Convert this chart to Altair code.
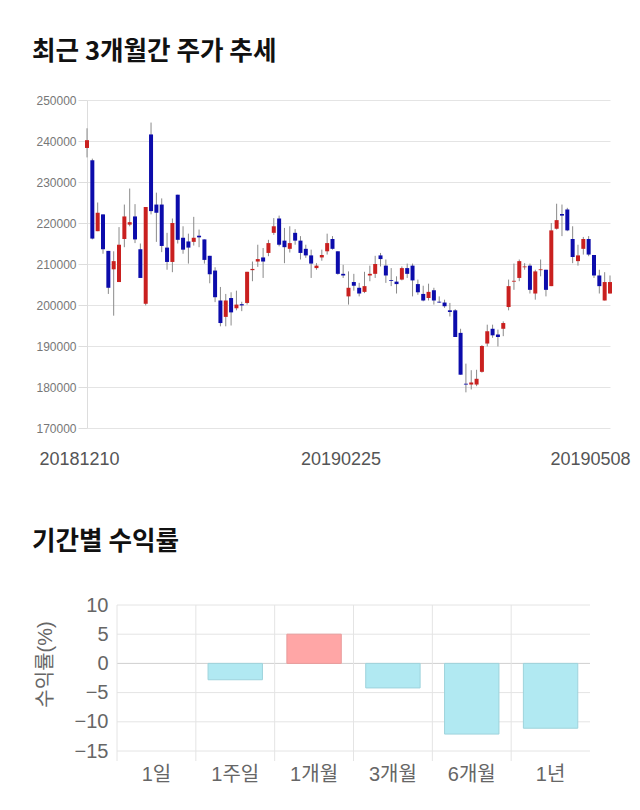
import altair as alt
import pandas as pd

# ---------------- data ----------------
holidays = ["2018-12-25", "2018-12-31", "2019-01-01", "2019-02-04", "2019-02-05",
            "2019-02-06", "2019-03-01", "2019-05-01", "2019-05-06"]
dates = [d.strftime("%Y%m%d") for d in pd.bdate_range("2018-12-10", "2019-05-08")
         if d.strftime("%Y-%m-%d") not in holidays]

open_ = [238300, 235300, 218000, 222100, 213200, 208700, 205600, 216100, 219600, 221600,
         213600, 200300, 241600, 224500, 224500, 214000, 210500, 226900, 216400, 215500,
         215400, 216900, 216000, 212000, 208400, 201100, 197100, 201700, 199200, 200200,
         200500, 208500, 210600, 211600, 212700, 217600, 221100, 215700, 213700, 217600,
         215700, 213700, 212100, 209000, 211600, 213100, 216100, 213100, 207600, 202100,
         205600, 204200, 203200, 207200, 207600, 212100, 209600, 206100, 205700, 206200,
         209000, 209600, 205100, 202700, 201700, 203600, 200800, 200600, 198700, 198700,
         193200, 180800, 180600, 180600, 183700, 190600, 194200, 192800, 194200, 199500,
         205700, 206600, 209200, 209600, 202800, 208500, 208600, 204600, 218600, 222200,
         223300, 216100, 210700, 213700, 216100, 212200, 207200, 201100, 202800]
high = [243100, 235700, 225000, 222100, 213200, 213100, 219000, 224500, 228400, 224600,
        215000, 223900, 244500, 227400, 226000, 217600, 221100, 226900, 219200, 217400,
        221500, 218400, 216000, 212000, 209200, 204400, 202700, 203100, 203500, 200800,
        208100, 210600, 214700, 213900, 215900, 221200, 221800, 218800, 219200, 218500,
        216800, 214700, 213500, 210200, 213500, 217400, 216800, 213100, 209800, 208200,
        207600, 205400, 208100, 209600, 212000, 212700, 211100, 209000, 207000, 209400,
        210100, 210100, 206200, 204700, 205200, 204200, 202100, 201300, 200500, 199000,
        194200, 185700, 184100, 184200, 190200, 195200, 195200, 194000, 196000, 206200,
        210100, 211100, 210200, 210100, 208600, 211100, 208600, 220000, 224700, 224500,
        223700, 219200, 214700, 216600, 216800, 212200, 208600, 208000, 207200]
low = [236000, 216000, 218000, 212500, 202700, 197400, 205600, 214100, 219200, 215100,
       206600, 199900, 222100, 215400, 212900, 208600, 208000, 215000, 212500, 210100,
       214500, 214100, 210100, 205300, 200700, 194800, 194800, 195000, 198700, 198500,
       200100, 205800, 209300, 206600, 211900, 217100, 214300, 210200, 212800, 214700,
       211100, 211500, 206600, 208600, 210800, 212300, 213500, 207400, 206600, 200100,
       203500, 202100, 202900, 205800, 206600, 209400, 205400, 204600, 202800, 206000,
       206600, 202100, 202500, 200900, 201100, 200100, 200500, 199300, 197200, 192200,
       183000, 178700, 179400, 180200, 183500, 189900, 192000, 189900, 192400, 198700,
       203700, 205800, 208600, 202800, 201300, 207000, 202100, 204600, 218400, 216800,
       218000, 210200, 209600, 212300, 211900, 206600, 202800, 201100, 202800]
close = [240200, 216200, 222500, 213600, 204200, 210700, 214700, 221600, 220200, 216000,
         206600, 223900, 222900, 222500, 214400, 210500, 220000, 215900, 213500, 214000,
         216400, 216500, 211000, 207500, 201900, 195600, 201100, 198200, 200100, 199900,
         208100, 208800, 211200, 210600, 215100, 219200, 214700, 214100, 215100, 215700,
         212700, 212100, 210100, 209600, 212200, 215100, 213700, 207600, 207200, 204200,
         204700, 202800, 204600, 207600, 210000, 211200, 207200, 205900, 205100, 209000,
         207600, 206000, 203100, 201100, 203200, 201100, 200600, 199700, 198300, 192200,
         183000, 180600, 181100, 182000, 190000, 193600, 192600, 192200, 195600, 204600,
         205900, 210700, 209400, 203700, 208200, 208700, 203700, 218200, 220700, 221800,
         218200, 211700, 212100, 216100, 212300, 207200, 204600, 205600, 205600]

y_ticks = [170000, 180000, 190000, 200000, 210000, 220000, 230000, 240000, 250000]
x_label_dates = ["20181210", "20190225", "20190508"]

periods = ["1일", "1주일", "1개월", "3개월", "6개월", "1년"]
returns = [0.0, -2.8, 5.0, -4.2, -12.1, -11.1]
ret_ticks = [-15, -10, -5, 0, 5, 10]

# ---------------- styles ----------------
RED = "#c9201f"
BLUE = "#0c0cab"
GRID = "#e4e4e4"
TITLE_FONT = "Noto Sans CJK KR"

df = pd.DataFrame({"date": dates, "open": open_, "high": high, "low": low, "close": close})

xenc = alt.X(
    "date:O",
    sort=None,
    scale=alt.Scale(type="point", padding=0),
    axis=alt.Axis(
        values=x_label_dates, title=None, domain=False, ticks=False, grid=False,
        labelAngle=0, labelFont="Liberation Sans",
        labelFontSize=18, labelColor="#555", labelPadding=22,
        labelOffset={"condition": {"test": "datum.value == '20190508'", "value": -20}, "value": -8},
    ),
)

yscale = alt.Scale(domain=[170000, 250000], nice=False, zero=False)
yaxis = alt.Axis(
    values=y_ticks, format="d", title=None, labelFont="Liberation Sans",
    labelFontSize=12, labelColor="#777", labelPadding=2, tickSize=9,
    tickColor="#dddddd", gridColor=GRID, domainColor="#dddddd",
)

wicks = alt.Chart(df).mark_rule(color="#8a8a8a", strokeWidth=1).encode(
    x=xenc,
    y=alt.Y("low:Q", scale=yscale, axis=yaxis),
    y2="high:Q",
)
bodies = alt.Chart(df).mark_bar(size=4).encode(
    x=xenc,
    y=alt.Y("open:Q", scale=yscale, axis=yaxis),
    y2="close:Q",
    color=alt.condition("datum.close >= datum.open", alt.value(RED), alt.value(BLUE)),
)

top = alt.layer(wicks, bodies).properties(
    width=523,
    height=328,
    title=alt.TitleParams(
        "최근 3개월간 주가 추세", anchor="start", frame="group", dx=-55,
        font=TITLE_FONT, fontSize=25.6, fontWeight="bold", color="#111", offset=28,
    ),
)

# ---------------- bottom chart ----------------
df2 = pd.DataFrame({"period": periods, "ret": returns})
df_ticks = pd.DataFrame({"v": ret_ticks})
df_cats = pd.DataFrame({"period": periods})

xband = alt.Scale(range=[30, 503], paddingInner=0, paddingOuter=0)
yret = alt.Scale(domain=[-15, 10], nice=False)

xaxis_b = alt.Axis(
    title=None, domain=False, ticks=False, grid=False, labelAngle=0,
    labelFont="Liberation Sans, Noto Sans CJK KR", labelFontSize=20,
    labelColor="#666", labelPadding=13,
)
yaxis_b = alt.Axis(
    values=ret_ticks, title="수익률(%)", domain=False, ticks=False, grid=False,
    offset=-30, labelFont="Liberation Sans", labelFontSize=20, labelColor="#666",
    labelPadding=9, titleFont="Liberation Sans, Noto Sans CJK KR",
    titleFontSize=20, titleFontWeight="normal", titleColor="#666",
    titleBaseline="middle", titleX=-72, titleY=59,
)

hgrid = alt.Chart(df_ticks).mark_rule(strokeWidth=1).encode(
    y=alt.Y("v:Q", scale=yret, axis=yaxis_b),
    x=alt.value(30),
    x2=alt.value(503),
    color=alt.condition("datum.v == 0", alt.value("#cfcfcf"), alt.value(GRID)),
)
vgrid = alt.Chart(df_cats).mark_rule(color=GRID, strokeWidth=1).encode(
    x=alt.X("period:N", sort=periods, scale=xband, bandPosition=0, axis=xaxis_b),
    y=alt.value(0),
    y2=alt.value(156),
)
bars = alt.Chart(df2).mark_bar(width={"band": 0.69}, strokeWidth=1).encode(
    x=alt.X("period:N", sort=periods, scale=xband, axis=xaxis_b),
    y=alt.Y("ret:Q", scale=yret, axis=yaxis_b),
    fill=alt.condition("datum.ret >= 0", alt.value("#ffa6a6"), alt.value("#b1e9f2")),
    stroke=alt.condition("datum.ret >= 0", alt.value("#e89b9b"), alt.value("#9ed3dc")),
    strokeOpacity=alt.condition("datum.ret == 0", alt.value(0), alt.value(1)),
)

bottom = alt.layer(hgrid, vgrid, bars).properties(
    width=503,
    height=146,
    title=alt.TitleParams(
        "기간별 수익률", anchor="start", frame="group", dx=-55,
        font=TITLE_FONT, fontSize=25.6, fontWeight="bold", color="#111", offset=39,
    ),
)

chart = alt.vconcat(top, bottom, spacing=62).properties(
    padding={"left": 32, "top": 40, "right": 0, "bottom": 0},
    background="white",
).configure_view(stroke=None)

chart.save("out.html", embed_options={"renderer": "svg", "actions": False})
